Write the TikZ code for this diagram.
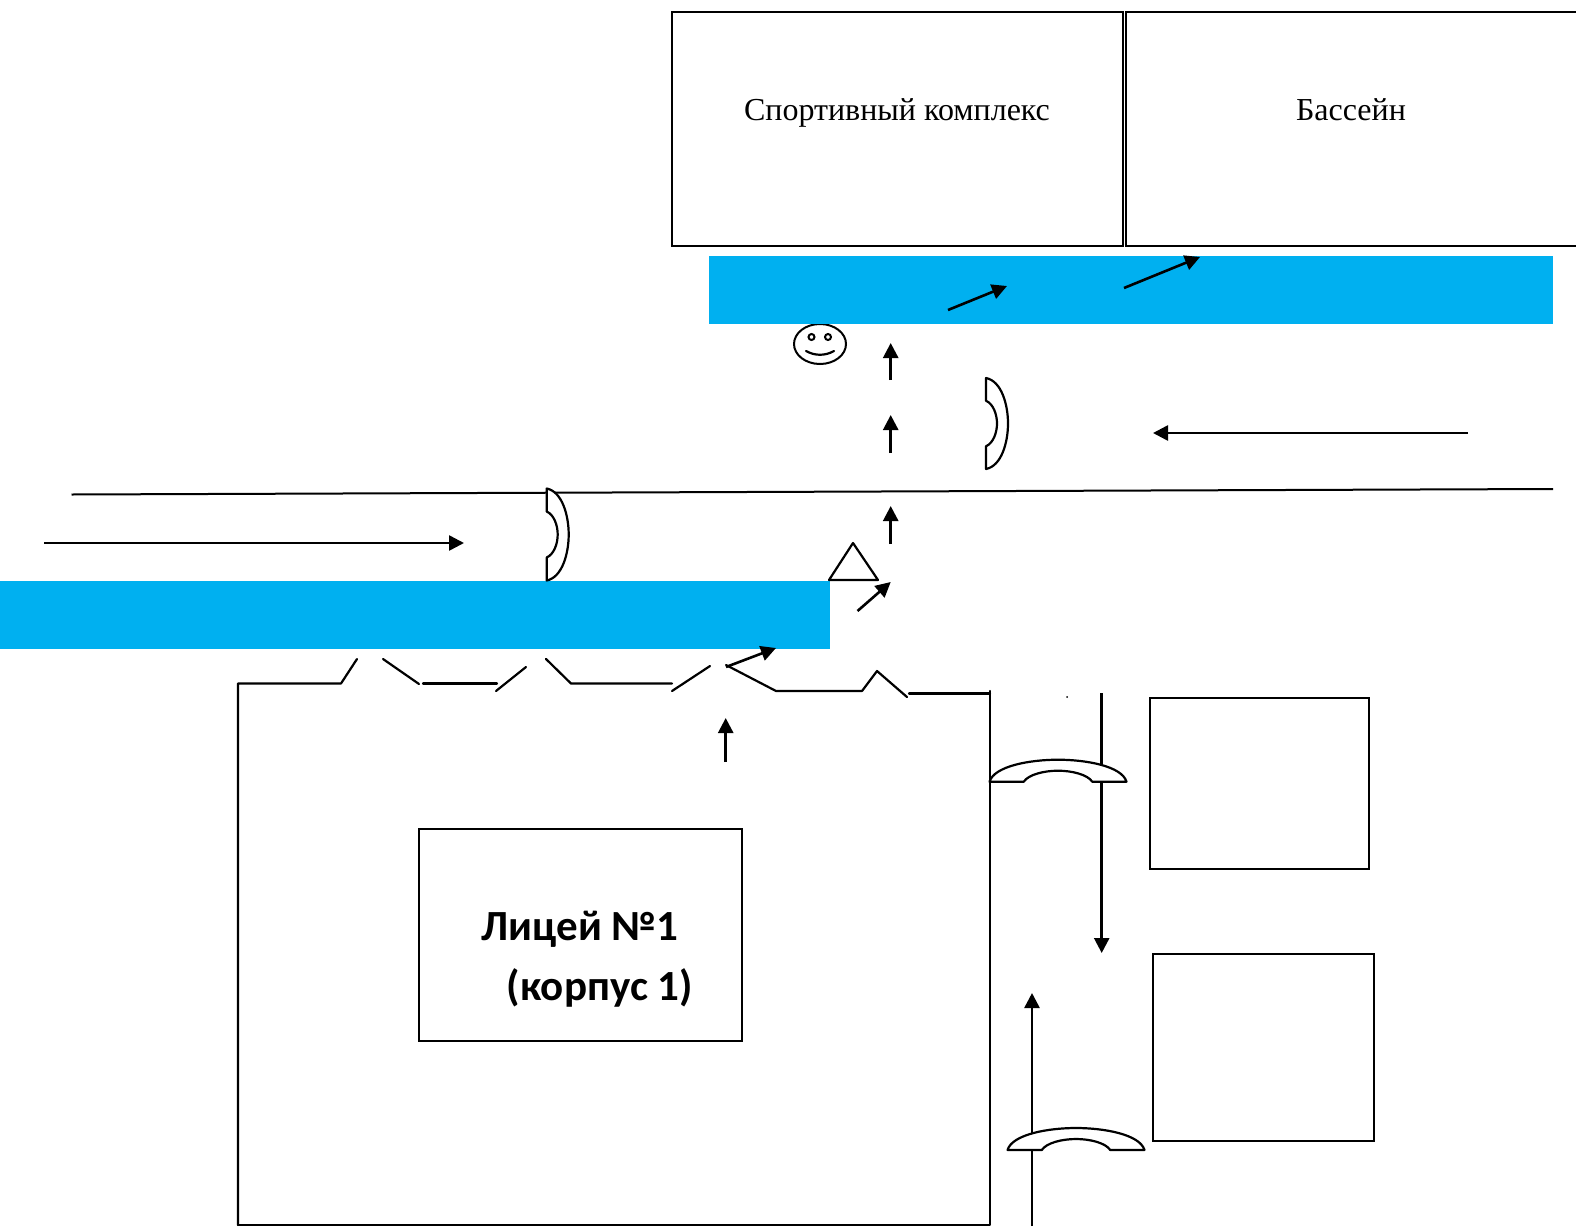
\documentclass[tikz,border=0pt]{standalone}
\usepackage{fontspec}
\setmainfont{Liberation Serif}
\newfontfamily\labelsans{Carlito}
\usetikzlibrary{arrows.meta,shapes.geometric}
\definecolor{roadblue}{HTML}{00B0F0}
\tikzset{
  road/.style={fill=roadblue,draw=none},
  house/.style={draw=black,line width=2.2pt,fill=white,inner sep=0pt},
  wall/.style={draw=black,line width=2.2pt,line cap=round,line join=round},
  flow/.style={draw=black,line width=2.6pt,-{Triangle[length=15pt,width=15pt]}},
  phoneline/.style={draw=black,line width=2.2pt,fill=white,line join=round},
  roomlabel/.style={font=\fontsize{32}{36}\selectfont,inner sep=0pt},
  bigbold/.style={font=\labelsans\bfseries\fontsize{43}{48}\selectfont,inner sep=0pt},
  phone/.pic={
    \path[phoneline] (-1,0) .. controls (-0.93,0.72) and (-0.4,1) .. (0,1)
      .. controls (0.4,1) and (0.93,0.72) .. (1,0) -- (0.5,0)
      .. controls (0.43,0.33) and (0.2,0.5) .. (0,0.5)
      .. controls (-0.2,0.5) and (-0.43,0.33) .. (-0.5,0) -- cycle;
  }
}
\begin{document}
\begin{tikzpicture}[x=1pt,y=-1pt]
\useasboundingbox (0,0) rectangle (1576,1226);
% smiley
\node[draw=black,line width=2pt,ellipse,minimum width=52pt,minimum height=40pt,inner sep=0pt] (face) at (820,344) {};
\draw[line width=2pt] (811.5,337) circle (3pt) (828,337) circle (3pt);
\draw[line width=2.2pt,line cap=round] (806,351) .. controls (815,356) and (825,356) .. (834,351);
% roads
\node[road,minimum width=844.5pt,minimum height=68pt,inner sep=0pt,anchor=north west] (roadtop) at (708.5,256) {};
\node[road,minimum width=830pt,minimum height=68pt,inner sep=0pt,anchor=north west] (roadleft) at (0,581) {};
% buildings
\node[house,minimum width=451pt,minimum height=234.5pt,anchor=north west] (sport) at (671,10.5) {};
\node[house,minimum width=451pt,minimum height=234.5pt,anchor=north west] (pool) at (1125,10.5) {};
\node[roomlabel] (sportlabel) at (897,113) {Спортивный комплекс};
\node[roomlabel] (poollabel) at (1351,110) {Бассейн};
\node[house,minimum width=323pt,minimum height=212pt,anchor=north west] (lyceum) at (418,827.5) {};
\node[bigbold] (lyc1) at (580,929) {Лицей №1};
\node[bigbold] (lyc2) at (600,988) {(корпус 1)};
\node[house,minimum width=219pt,minimum height=171pt,anchor=north west] (blockone) at (1149,696.5) {};
\node[house,minimum width=221pt,minimum height=187pt,anchor=north west] (blocktwo) at (1152,952.5) {};
% fence of the lyceum grounds
\draw[wall] (238,1225) -- (238,683.5) -- (341,683.5) -- (357,659);
\draw[wall] (383,659) -- (419,684);
\draw[wall] (423,683.5) -- (497,683.5);
\draw[wall] (496,691) -- (526,667);
\draw[wall] (546,659) -- (571,683.5) -- (672,683.5);
\draw[wall] (672,691) -- (710,666);
\draw[wall] (726,665) -- (776,691) -- (862,691) -- (877,671) -- (907,697);
\draw[wall] (909,693.5) -- (990,693.5);
\draw[wall] (990,691) -- (990,1225) -- (238,1225);
\fill (1067,697) circle (1pt);
% street edge
\coordinate (edgeL) at (71.5,494.5);
\coordinate (edgeR) at (1553,489);
\draw[line width=2pt] (edgeL) -- (edgeR);
% lines with arrows
\coordinate (dA) at (1101.7,693); \coordinate (dB) at (1101.7,953);
\draw[flow] (dA) -- (dB);
\coordinate (uA) at (1032,1226); \coordinate (uB) at (1032,993);
\draw[flow] (uA) -- (uB);
\coordinate (rA) at (44,543); \coordinate (rB) at (464,543);
\draw[flow] (rA) -- (rB);
\coordinate (lA) at (1468,433); \coordinate (lB) at (1153,433);
\draw[flow] (lA) -- (lB);
\coordinate (a1A) at (890.7,380); \coordinate (a1B) at (890.7,343);
\draw[flow] (a1A) -- (a1B);
\coordinate (a2A) at (890.7,453); \coordinate (a2B) at (890.7,415);
\draw[flow] (a2A) -- (a2B);
\coordinate (a3A) at (890.7,544); \coordinate (a3B) at (890.7,506);
\draw[flow] (a3A) -- (a3B);
\coordinate (a4A) at (857.5,611); \coordinate (a4B) at (890.7,582);
\draw[flow] (a4A) -- (a4B);
\coordinate (a5A) at (725.7,762); \coordinate (a5B) at (725.7,718);
\draw[flow] (a5A) -- (a5B);
\coordinate (a6A) at (726,667); \coordinate (a6B) at (776,648);
\draw[flow] (a6A) -- (a6B);
\coordinate (a7A) at (948,310); \coordinate (a7B) at (1007,286);
\draw[flow] (a7A) -- (a7B);
\coordinate (a8A) at (1124,288); \coordinate (a8B) at (1200,257);
\draw[flow] (a8A) -- (a8B);
% give-way triangle
\draw[line width=2.2pt,line join=round] (853,543) -- (878,580) -- (829,580) -- cycle;
% phone-shaped marks
\coordinate (p1) at (986,423.5);
\coordinate (p2) at (546.7,534.5);
\coordinate (p3) at (1058,781.7);
\coordinate (p4) at (1076,1150);
\pic[x={(0pt,-45.5pt)},y={(22pt,0pt)}] at (p1) {phone};
\pic[x={(0pt,-46pt)},y={(22pt,0pt)}] at (p2) {phone};
\pic[x={(68.5pt,0pt)},y={(0pt,22pt)}] at (p3) {phone};
\pic[x={(68.5pt,0pt)},y={(0pt,22pt)}] at (p4) {phone};
\end{tikzpicture}
\end{document}
